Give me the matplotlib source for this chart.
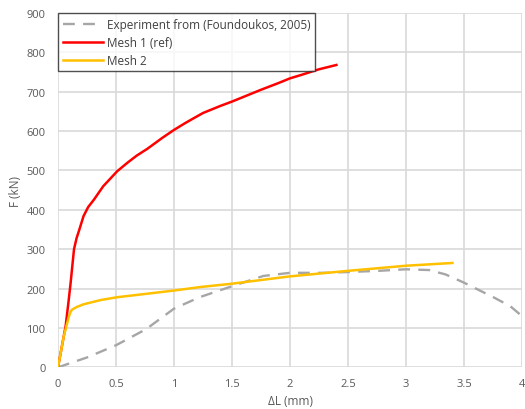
import matplotlib
matplotlib.use('Agg')
import matplotlib.pyplot as plt

# experiment (Foundoukos, 2005)
exp_x = [0, 0.25, 0.5, 0.76, 1.0, 1.22, 1.5, 1.77, 2.0, 2.28, 2.5, 2.76, 3.0, 3.2, 3.34, 3.5, 3.76, 3.9, 4.0]
exp_y = [0, 25, 56, 97, 149, 178, 206, 232, 240, 240, 242, 245, 249, 247, 236, 215, 177, 155, 130]

# Mesh 1 (ref)
m1_x = [0, 0.066, 0.09, 0.109, 0.125, 0.138, 0.16, 0.18, 0.22, 0.26, 0.31, 0.39, 0.51, 0.6, 0.68,
        0.77, 0.9, 1.0, 1.1, 1.25, 1.4, 1.5, 1.6, 1.75, 1.9, 2.0, 2.1, 2.25, 2.4]
m1_y = [0, 105, 165, 215, 262, 300, 328, 346, 384, 407, 426, 460, 498, 520, 538,
        555, 583, 603, 621, 646, 664, 675, 687, 705, 722, 734, 743, 757, 768]

# Mesh 2
m2_x = [0, 0.05, 0.095, 0.11, 0.124, 0.16, 0.22, 0.37, 0.51, 0.8, 1.0, 1.23, 1.49, 2.0, 2.5, 3.0, 3.4]
m2_y = [0, 79, 130, 142, 147, 153, 160, 171, 178, 188, 195, 204, 212, 231, 245, 258, 265]

FONT = ['Open Sans', 'DejaVu Sans']
TXT = '#595959'
GRID = '#d9d9d9'

plt.rcParams['font.family'] = FONT

fig = plt.figure(figsize=(5.25, 4.1), dpi=100)
ax = fig.add_axes([58 / 525, 41.7 / 410, 464 / 525, 354.3 / 410])

ax.plot(exp_x, exp_y, color='#a6a6a6', lw=1.7, ls=(0, (5, 3.5)),
        label='Experiment from (Foundoukos, 2005)')
ax.plot(m1_x, m1_y, color='#ff0000', lw=1.8, label='Mesh 1 (ref)')
ax.plot(m2_x, m2_y, color='#ffc000', lw=1.8, label='Mesh 2')

ax.set_xlim(0, 4)
ax.set_ylim(0, 900)
ax.set_xticks([0, 0.5, 1, 1.5, 2, 2.5, 3, 3.5, 4])
ax.set_xticklabels(['0', '0.5', '1', '1.5', '2', '2.5', '3', '3.5', '4'])
ax.set_yticks(range(0, 901, 100))
ax.grid(True, color=GRID, lw=1.2)
ax.set_axisbelow(True)
for s in ax.spines.values():
    s.set_visible(False)
ax.tick_params(length=0, colors=TXT, labelsize=8, pad=8)
ax.tick_params(axis='y', pad=9)

ax.set_xlabel('ΔL (mm)', color=TXT, fontsize=8.5, labelpad=3)
ax.set_ylabel('F (kN)', color=TXT, fontsize=8.5, labelpad=3)

leg = ax.legend(loc='upper left', bbox_to_anchor=(0, 1), fontsize=8.5,
                frameon=True, fancybox=False, edgecolor='#262626',
                labelcolor='#404040', borderaxespad=0, handlelength=3.4,
                handletextpad=0.35, borderpad=0.4, labelspacing=0.42)
leg.get_frame().set_linewidth(1.0)

fig.savefig('out.png', dpi=100)
